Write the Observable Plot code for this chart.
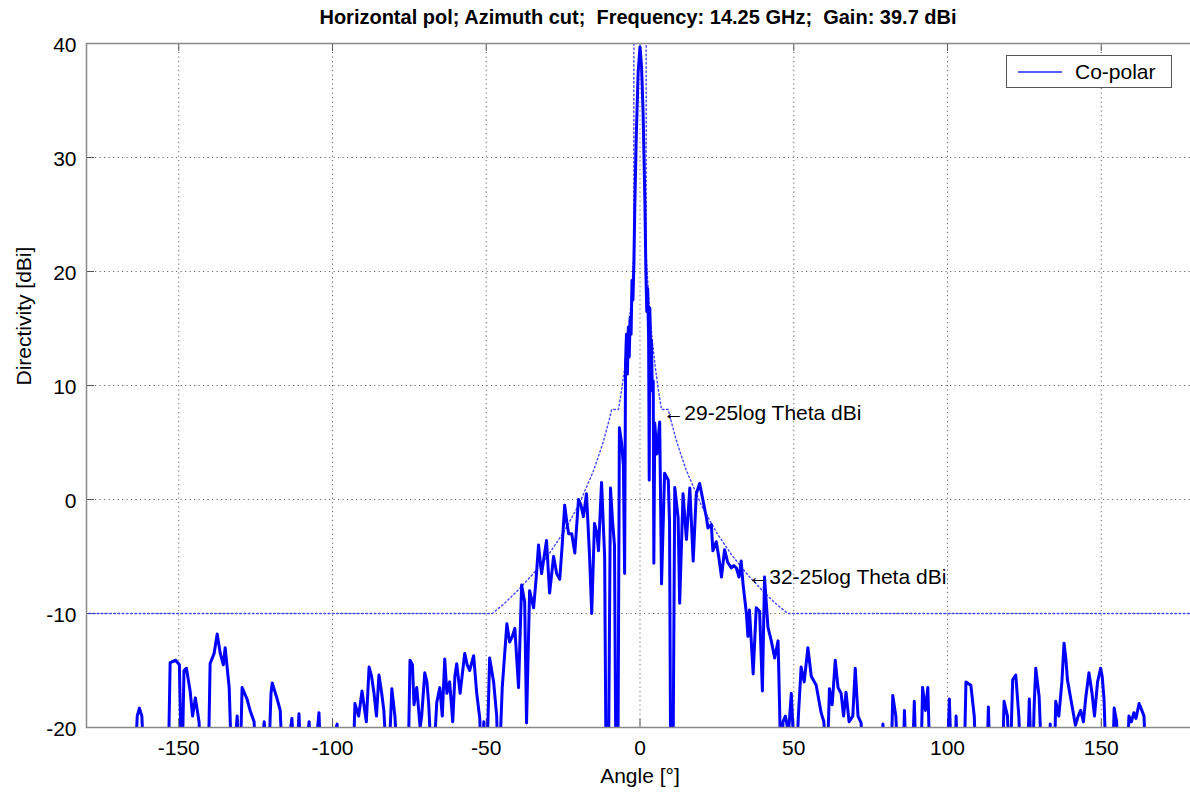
<!DOCTYPE html>
<html>
<head>
<meta charset="utf-8">
<script src="https://cdn.jsdelivr.net/npm/d3@7"></script>
<script src="https://cdn.jsdelivr.net/npm/@observablehq/plot@0.6"></script>
<style>
html, body { margin: 0; padding: 0; background: #fff; overflow: hidden; }
#wrap { position: relative; width: 1190px; height: 794px; font-family: "Liberation Sans", Arial, sans-serif; }
#title { position: absolute; left: 138px; width: 1000px; top: 6px; line-height: 23px; text-align: center; font-weight: bold; font-size: 20px; color: #000; white-space: pre; }
#legend { position: absolute; left: 1006px; top: 55px; width: 164px; height: 31px; border: 1px solid #555; background: #fff; }
#legend .swatch { position: absolute; left: 11px; top: 15px; width: 44px; height: 2px; background: #5a5aff; }
#legend .lab { position: absolute; left: 68px; top: 3px; font-size: 21px; line-height: 25px; color: #000; }
#chart { position: absolute; left: 0; top: 0; }
</style>
</head>
<body>
<div id="wrap">
  <div id="chart"></div>
  <div id="title"></div>
  <div id="legend"><div class="swatch"></div><div class="lab"></div></div>
</div>
<script>
// ---- texts ----
const titleText = "Horizontal pol; Azimuth cut;  Frequency: 14.25 GHz;  Gain: 39.7 dBi";
const xLabel = "Angle [°]";
const yLabel = "Directivity [dBi]";
const legendLabel = "Co-polar";

// ---- ticks ----
const xTicks = [-150, -100, -50, 0, 50, 100, 150];
const yTicks = [-20, -10, 0, 10, 20, 30, 40];
const yGrid = [-10, 0, 10, 20, 30];

// ---- co-polar pattern [angle (deg), directivity (dBi)] ----
const copolar = [
  [-180,-25],[-164.5,-25],[-163.5,-19],[-162.8,-18.3],[-162,-19],[-161,-25],
  [-153.5,-25],[-152.8,-14.3],[-151,-14.1],[-149.8,-14.5],[-149,-25],[-148.3,-15],[-147.5,-14.8],
  [-146.3,-16.8],[-145.5,-19],[-144.6,-17.4],[-143.4,-19.5],[-142.5,-25],
  [-140.5,-25],[-139.8,-14.4],[-138.5,-13.5],[-137.5,-11.8],[-136.5,-13.5],[-135.5,-14.5],
  [-134.9,-13.0],[-133.6,-16.5],[-132.6,-25],[-131,-19],[-130.2,-25],[-129.4,-16.5],
  [-127.8,-17.5],[-126.8,-18.5],[-125.5,-19.5],[-124.5,-25],[-122.2,-19.5],[-121,-25],
  [-120,-17],[-119.6,-16.1],[-118,-17.5],[-117,-18.5],[-116,-25],[-113.2,-19.2],[-112,-25],
  [-110.9,-18.8],[-110,-25],[-107.6,-19.5],[-106.5,-25],[-104.4,-18.7],[-103.5,-25],
  [-98.5,-19.7],[-98,-25],[-93.5,-25],[-92.7,-17.9],[-91.5,-19],[-90.4,-16.8],[-89,-19.5],
  [-88.1,-14.7],[-87.3,-15.5],[-86.5,-17],[-85.7,-19],[-84.9,-15.4],[-84,-17],[-83.3,-18.5],
  [-82,-25],[-80.7,-16.6],[-79.7,-19],[-78.5,-25],[-75.5,-25],[-74.8,-14.1],[-74,-14.5],
  [-73.5,-18],[-72.6,-16.5],[-71.5,-20],[-71,-19],[-70,-15.2],[-69.3,-16],[-68.7,-18],
  [-67.5,-25],[-66.1,-17.8],[-65.1,-16.5],[-64.3,-19],[-63.5,-14],[-62.8,-17],[-61.9,-16],
  [-60.9,-19.5],[-60.2,-15.5],[-59.6,-14.4],[-58.5,-17],[-57,-13.5],[-56.2,-14.5],[-55.4,-15],
  [-54.1,-13.7],[-53.1,-17],[-52.1,-19.2],[-51.5,-25],[-50.8,-19.5],[-50,-25],[-48.9,-13.9],
  [-47.6,-16],[-46.6,-19],[-46,-25],[-44.8,-16.5],[-43.3,-10.9],[-42.4,-12.5],[-41.5,-12],
  [-40.7,-11.3],[-39.5,-16.5],[-38.5,-7.5],[-37.5,-9],[-36.9,-19.6],[-35.9,-8],[-34.6,-9.5],
  [-33.8,-7],[-33,-4],[-32,-6.5],[-30.4,-3.6],[-29.4,-8.2],[-28.1,-5],[-27.1,-6.5],[-26.1,-7],
  [-25.3,-4],[-24.5,-0.5],[-23.8,-2],[-23.2,-3],[-22.2,-3],[-21.2,-4.7],[-20,0],[-19.2,-0.5],
  [-18.4,-1.5],[-17.4,0.5],[-16.4,-5],[-15.7,-10],[-14.8,-2.1],[-14,-3],[-13.5,-4.5],
  [-12.5,1.5],[-11.5,-5],[-11.0,-25],[-10.3,-25],[-9.6,1],[-8.9,-2],[-8.3,-4],[-7.8,-25],
  [-7.2,-25],[-6.7,6.3],[-6.0,5],[-5.4,3],[-5.0,-6.5],[-4.7,12],[-4.4,14.5],[-4.1,11],
  [-3.8,15.1],[-3.5,12.5],[-3.2,16],[-2.9,14.5],[-2.6,19.2],[-2.3,17.5],[-2.0,20.5],
  [-1.7,25.6],[-1.2,32],[-0.6,37.5],[0,39.7],[0.5,38],[1.0,34],
  [1.6,26],[1.9,20.2],[2.2,16.5],[2.5,18.5],[2.8,14],[3.0,1.7],[3.2,16.8],[3.5,12],[3.7,14],
  [4.0,9.5],[4.3,10.4],[4.5,-5.6],
  [4.8,6.7],[5.5,4],[6.4,6.8],[7.0,-7.4],[8.0,2.3],[9.2,1.7],[9.6,-2],[10.0,-25],[10.7,-25],
  [11.3,1.05],[12.4,-1.6],[12.9,-9.1],[14.0,0.5],[15.1,-3.5],[16.2,1],[17.3,-5.4],[18.3,0.5],
  [19.4,1.4],[20.5,-0.1],[21.6,-1.6],[22.1,-2.5],[23.2,-2.2],[23.7,-4.5],[24.8,-3.7],[25.6,-5],
  [26.5,-6.8],[27.5,-4.4],[28.5,-5.5],[29.7,-6],[30.5,-5.8],[31.3,-6],[32.2,-6.8],[32.9,-5.4],
  [33.5,-7.4],[34.6,-10],[35.1,-12],[35.6,-9.7],[36.8,-15.3],[37.8,-9.5],[38.9,-9.8],
  [39.8,-16.8],[40.5,-6.8],[41.6,-11.2],[42.7,-12.4],[43.8,-13.9],[44.9,-12.4],[45.4,-18.2],
  [45.9,-25],[46.5,-19.5],[47.3,-19],[48.3,-20.5],[49.2,-17],[50.6,-25],[51.5,-19],[52.4,-14.7],
  [53.4,-16],[54.6,-13],[55.7,-15.5],[57.3,-16.3],[58.9,-18.7],[59.8,-19.5],[60.7,-25],
  [61.6,-16.6],[62.5,-18],[63.5,-14.1],[64.4,-16.5],[65.4,-17],[66.2,-19],[67,-16.9],[68,-19.5],
  [69.2,-19],[70,-14.8],[70.9,-19],[71.9,-19.6],[72.8,-25],[78.3,-25],[79,-19.7],[80,-25],
  [81.5,-25],[82.2,-17.2],[83.2,-19],[84.2,-25],[85.4,-25],[86,-18.5],[86.8,-25],[88.4,-25],
  [89.2,-17.7],[90,-25],[91.2,-25],[91.9,-16.5],[92.8,-18.5],[93.6,-16.5],[94.5,-25],
  [99.8,-25],[100.6,-17.5],[101.5,-25],[102.3,-25],[102.8,-19],[103.5,-25],[105.3,-25],
  [106,-16],[107.6,-16.3],[108.7,-19],[109.5,-25],[112.6,-25],[113.3,-18.2],[114,-25],
  [117.7,-25],[118.4,-17.7],[119.5,-19],[120.3,-25],[120.8,-19.5],[121.2,-15.8],[122.2,-15.4],
  [123.2,-19],[124,-25],[125.8,-25],[126.6,-17.5],[127.5,-25],[128.2,-18],[128.7,-14.8],
  [129.8,-17.3],[130.9,-25],[133,-25],[133.4,-19.7],[134,-25],[134.6,-25],[135.2,-17.7],
  [136.2,-19],[137.2,-16],[137.9,-12.6],[138.5,-14],[139,-15.8],[140.1,-17.5],[141.6,-19.8],
  [142.5,-19],[143.3,-18.5],[144.2,-19.5],[145,-17.3],[146,-15.2],[147,-17],[147.8,-19],
  [148.8,-16],[149.8,-14.8],[150.3,-15.5],[150.9,-17.5],[151.8,-25],[153.5,-25],[154.2,-18.3],
  [155,-19.5],[155.6,-25],[158.2,-25],[159,-19],[159.8,-19.5],[160.6,-18.7],[161.3,-19.2],
  [162.3,-17.9],[163.2,-18.5],[163.9,-19],[164.8,-25],[180,-25]
];

// ---- reference envelope (dotted) [side, angle, dBi] ----
const envelope = [
  ["L",-180,-10],["L",-48,-10],["L",-44,-9.09],["L",-40,-8.05],["L",-35,-6.6],["L",-30,-4.93],
  ["L",-25,-2.95],["L",-20,-0.53],["L",-15,2.6],["L",-12,5.02],["L",-10,7],["L",-9.2,7.9],
  ["L",-7,7.9],["L",-6,9.55],["L",-5,11.53],["L",-4,13.95],["L",-3,17.07],["L",-2,21.47],["L",-2,40],
  ["R",2,40],["R",2,21.47],["R",3,17.07],["R",4,13.95],["R",5,11.53],["R",6,9.55],["R",7,7.9],
  ["R",9.2,7.9],["R",10,7],["R",12,5.02],["R",15,2.6],["R",20,-0.53],["R",25,-2.95],["R",30,-4.93],
  ["R",35,-6.6],["R",40,-8.05],["R",44,-9.09],["R",48,-10],["R",180,-10]
];

// ---- annotations [angle, dBi, text] ----
const notes = [
  [7.6, 7.6, "←29-25log Theta dBi"],
  [35.2, -6.8, "←32-25log Theta dBi"]
];

document.getElementById("title").textContent = titleText;
document.querySelector("#legend .lab").textContent = legendLabel;

const chart = Plot.plot({
  width: 1190,
  height: 794,
  marginTop: 43,
  marginBottom: 67,
  marginLeft: 86,
  marginRight: -3,
  x: {domain: [-180, 180]},
  y: {domain: [-20, 40]},
  style: {fontFamily: "Liberation Sans, Arial, sans-serif", fontSize: "21px", color: "#000", background: "white", overflow: "hidden"},
  marks: [
    Plot.ruleX(xTicks, {stroke: "#666", strokeDasharray: "1.2,3.3", strokeWidth: 1}),
    Plot.ruleY(yGrid, {stroke: "#666", strokeDasharray: "1.2,3.3", strokeWidth: 1}),
    Plot.ruleX(xTicks, {x: d => d, y1: -20, y2: -19.3, stroke: "#555"}),
    Plot.ruleX(xTicks, {x: d => d, y1: 40, y2: 39.3, stroke: "#555"}),
    Plot.ruleY(yTicks, {y: d => d, x1: -180, x2: -177.4, stroke: "#555"}),
    Plot.line(envelope, {x: d => d[1], y: d => d[2], z: d => d[0], stroke: "#4646ff", strokeWidth: 1.4, strokeDasharray: "1.6,2.6", strokeDashoffset: 2, clip: true}),
    Plot.line(copolar, {x: d => d[0], y: d => d[1], stroke: "#0000ff", strokeWidth: 3, strokeLinejoin: "round", clip: true}),
    Plot.frame({stroke: "#888", strokeWidth: 1.5}),
    Plot.axisX({ticks: xTicks, tickFormat: d => String(d), tickSize: 0, tickPadding: 13, fontSize: 21, label: null}),
    Plot.axisY({ticks: yTicks, tickFormat: d => String(d), tickSize: 0, tickPadding: 10, fontSize: 21, label: null, dy: 2}),
    Plot.text([xLabel], {text: d => d, frameAnchor: "bottom", lineAnchor: "top", dy: 41, fontSize: 21}),
    Plot.text([yLabel], {text: d => d, frameAnchor: "left", rotate: -90, dx: -62, fontSize: 21}),
    Plot.text(notes, {x: d => d[0], y: d => d[1], text: d => d[2], textAnchor: "start", fontSize: 21})
  ]
});
document.getElementById("chart").appendChild(chart);
</script>
</body>
</html>
